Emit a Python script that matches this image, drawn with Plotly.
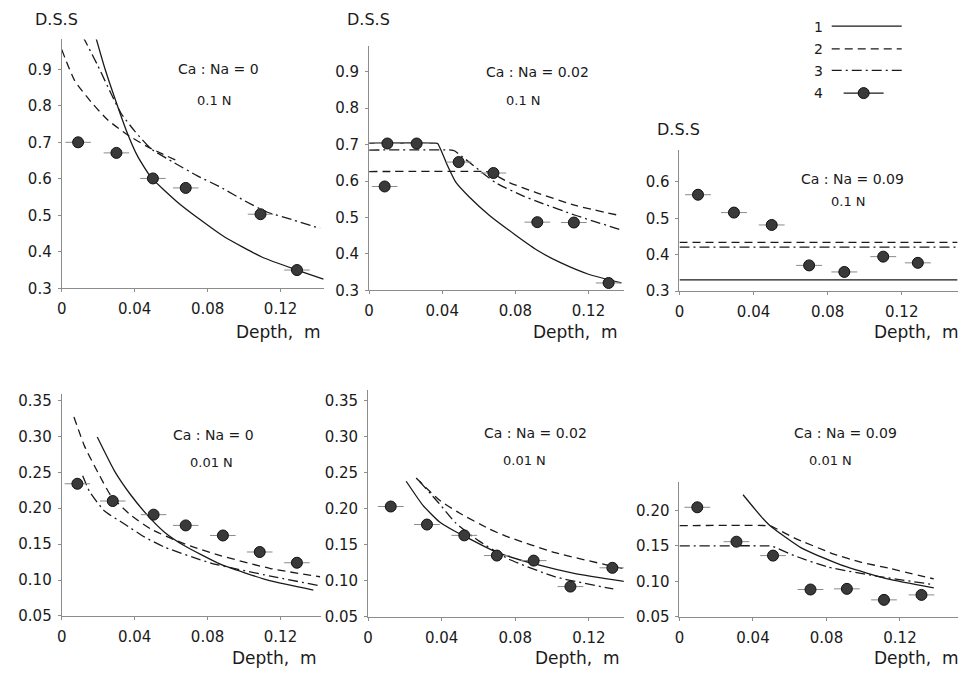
import plotly.graph_objects as go

W, H = 965, 680

# ---------------- data ----------------
x_ticks = [0, 0.04, 0.08, 0.12]
x_tick_text = ["0", "0.04", "0.08", "0.12"]
err_half = 0.007  # half width of horizontal bars on measured points

# Panel a: Ca:Na = 0, 0.1 N
a_pts_x = [0.009, 0.030, 0.050, 0.068, 0.109, 0.129]
a_pts_y = [0.700, 0.671, 0.601, 0.575, 0.503, 0.350]
a_c1_x = [0.018, 0.0235, 0.0289, 0.0353, 0.0416, 0.049, 0.0635, 0.0762, 0.0889, 0.110, 0.129, 0.1435]
a_c1_y = [1.000, 0.905, 0.824, 0.734, 0.662, 0.604, 0.536, 0.487, 0.442, 0.385, 0.350, 0.325]
a_c2_x = [0.000, 0.0071, 0.0162, 0.0253, 0.0362, 0.047, 0.063]
a_c2_y = [0.954, 0.869, 0.810, 0.761, 0.720, 0.688, 0.650]
a_c3_x = [0.0116, 0.0198, 0.0271, 0.0326, 0.0398, 0.049, 0.0617, 0.0744, 0.0871, 0.0998, 0.1125, 0.127, 0.1417]
a_c3_y = [0.990, 0.910, 0.833, 0.779, 0.732, 0.682, 0.644, 0.608, 0.577, 0.541, 0.509, 0.487, 0.464]

# Panel b: Ca:Na = 0.02, 0.1 N
b_pts_x = [0.0085, 0.010, 0.026, 0.049, 0.068, 0.092, 0.112, 0.131]
b_pts_y = [0.585, 0.703, 0.703, 0.652, 0.622, 0.487, 0.486, 0.320]
b_c1_x = [0.000, 0.036, 0.0375, 0.043, 0.0475, 0.0548, 0.0657, 0.080, 0.0929, 0.105, 0.120, 0.138]
b_c1_y = [0.704, 0.704, 0.703, 0.641, 0.596, 0.556, 0.506, 0.452, 0.407, 0.375, 0.344, 0.320]
b_c2_x = [0.000, 0.064, 0.0657, 0.0766, 0.091, 0.1128, 0.1373]
b_c2_y = [0.626, 0.626, 0.625, 0.596, 0.569, 0.533, 0.505]
b_c3_x = [0.000, 0.045, 0.0466, 0.0529, 0.0693, 0.0838, 0.0929, 0.1128, 0.139]
b_c3_y = [0.685, 0.685, 0.683, 0.659, 0.595, 0.560, 0.542, 0.506, 0.464]

# Panel c: Ca:Na = 0.09, 0.1 N
c_pts_x = [0.010, 0.0294, 0.0498, 0.070, 0.089, 0.110, 0.1287]
c_pts_y = [0.565, 0.516, 0.482, 0.371, 0.353, 0.395, 0.378]
c_c_x = [0.000, 0.150]
c_c1_y = [0.331, 0.331]
c_c2_y = [0.434, 0.434]
c_c3_y = [0.421, 0.421]

# Panel d: Ca:Na = 0, 0.01 N
d_pts_x = [0.0086, 0.028, 0.0504, 0.068, 0.0884, 0.1086, 0.129]
d_pts_y = [0.234, 0.210, 0.191, 0.176, 0.162, 0.139, 0.124]
d_c1_x = [0.0195, 0.0289, 0.038, 0.0471, 0.0562, 0.0671, 0.087, 0.114, 0.138]
d_c1_y = [0.299, 0.252, 0.218, 0.190, 0.167, 0.148, 0.122, 0.099, 0.086]
d_c2_x = [0.0067, 0.0125, 0.0198, 0.0271, 0.038, 0.0489, 0.0616, 0.0744, 0.087, 0.1145, 0.1417]
d_c2_y = [0.327, 0.2864, 0.250, 0.217, 0.190, 0.171, 0.156, 0.144, 0.134, 0.116, 0.1045]
d_c3_x = [0.0115, 0.0153, 0.0235, 0.0344, 0.0453, 0.0562, 0.0818, 0.1145, 0.1417]
d_c3_y = [0.245, 0.223, 0.196, 0.178, 0.160, 0.146, 0.1235, 0.1054, 0.092]

# Panel e: Ca:Na = 0.02, 0.01 N
e_pts_x = [0.0123, 0.032, 0.0523, 0.070, 0.090, 0.110, 0.1328]
e_pts_y = [0.203, 0.178, 0.163, 0.135, 0.128, 0.092, 0.118]
e_c1_x = [0.0207, 0.0297, 0.0387, 0.0477, 0.0523, 0.0694, 0.091, 0.1126, 0.1396]
e_c1_y = [0.238, 0.205, 0.182, 0.168, 0.162, 0.140, 0.123, 0.110, 0.099]
e_c2_x = [0.0261, 0.0387, 0.0496, 0.0658, 0.0748, 0.1018, 0.1306, 0.1387]
e_c2_y = [0.2425, 0.212, 0.194, 0.172, 0.162, 0.139, 0.1215, 0.117]
e_c3_x = [0.0279, 0.0387, 0.0477, 0.0604, 0.0766, 0.1018, 0.1333]
e_c3_y = [0.238, 0.207, 0.180, 0.155, 0.130, 0.1055, 0.0887]

# Panel f: Ca:Na = 0.09, 0.01 N
f_pts_x = [0.0097, 0.031, 0.0509, 0.0713, 0.0911, 0.1113, 0.1317]
f_pts_y = [0.2045, 0.156, 0.1364, 0.0886, 0.0895, 0.074, 0.081]
f_c1_x = [0.0346, 0.0446, 0.0498, 0.066, 0.084, 0.0915, 0.1132, 0.1384]
f_c1_y = [0.2222, 0.191, 0.1774, 0.1477, 0.1273, 0.120, 0.1036, 0.091]
f_c2_x = [0.000, 0.048, 0.0498, 0.0624, 0.084, 0.0985, 0.115, 0.1384]
f_c2_y = [0.1787, 0.1787, 0.1780, 0.1614, 0.1386, 0.1273, 0.118, 0.1036]
f_c3_x = [0.000, 0.049, 0.0507, 0.0624, 0.0805, 0.106, 0.1384]
f_c3_y = [0.150, 0.150, 0.1493, 0.1364, 0.1205, 0.108, 0.0955]

y_ticks_top = [0.3, 0.4, 0.5, 0.6, 0.7, 0.8, 0.9]
y_ticks_c = [0.3, 0.4, 0.5, 0.6]
y_ticks_bot = [0.05, 0.10, 0.15, 0.20, 0.25, 0.30, 0.35]
y_ticks_f = [0.05, 0.10, 0.15, 0.20]

ratio_labels = ["Ca : Na = 0", "Ca : Na = 0.02", "Ca : Na = 0.09",
                "Ca : Na = 0", "Ca : Na = 0.02", "Ca : Na = 0.09"]
norm_labels = ["0.1 N", "0.1 N", "0.1 N", "0.01 N", "0.01 N", "0.01 N"]
legend_numbers = ["1", "2", "3", "4"]

# ---------------- layout geometry (pixels) ----------------
panels = [
    dict(px=(57, 321), py=(291, 38), xr=(0, 0.144), yr=(0.3, 0.982), yt=y_ticks_top, fmt="{:.1f}"),
    dict(px=(366, 622), py=(293, 45), xr=(0, 0.1393), yr=(0.3, 0.970), yt=y_ticks_top, fmt="{:.1f}"),
    dict(px=(678, 958), py=(294, 150), xr=(0, 0.1504), yr=(0.3, 0.689), yt=y_ticks_c, fmt="{:.1f}"),
    dict(px=(57, 318), py=(624, 398), xr=(0, 0.1424), yr=(0.05, 0.3596), yt=y_ticks_bot, fmt="{:.2f}"),
    dict(px=(365, 622), py=(625, 394), xr=(0, 0.139), yr=(0.05, 0.365), yt=y_ticks_bot, fmt="{:.2f}"),
    dict(px=(678, 958), py=(625, 488), xr=(0, 0.1516), yr=(0.05, 0.24), yt=y_ticks_f, fmt="{:.2f}"),
]

curves = [
    (a_pts_x, a_pts_y, [(a_c1_x, a_c1_y), (a_c2_x, a_c2_y), (a_c3_x, a_c3_y)]),
    (b_pts_x, b_pts_y, [(b_c1_x, b_c1_y), (b_c2_x, b_c2_y), (b_c3_x, b_c3_y)]),
    (c_pts_x, c_pts_y, [(c_c_x, c_c1_y), (c_c_x, c_c2_y), (c_c_x, c_c3_y)]),
    (d_pts_x, d_pts_y, [(d_c1_x, d_c1_y), (d_c2_x, d_c2_y), (d_c3_x, d_c3_y)]),
    (e_pts_x, e_pts_y, [(e_c1_x, e_c1_y), (e_c2_x, e_c2_y), (e_c3_x, e_c3_y)]),
    (f_pts_x, f_pts_y, [(f_c1_x, f_c1_y), (f_c2_x, f_c2_y), (f_c3_x, f_c3_y)]),
]

dashes = ["solid", "8px,5px", "10px,4px,2px,4px"]
INK = "#1a1a1a"
AXC = "#8c8c8c"
FONT = "DejaVu Sans"

fig = go.Figure()
layout = dict(width=W, height=H, margin=dict(l=0, r=0, t=0, b=0),
              paper_bgcolor="white", plot_bgcolor="white", showlegend=True)

def px2x(p):
    return p / W

def py2y(p):
    return 1 - p / H

for i, (pn, (px_, py_, cl)) in enumerate(zip(panels, curves)):
    k = "" if i == 0 else str(i + 1)
    xa, ya = "x" + k, "y" + k
    for j, (cx, cy) in enumerate(cl):
        fig.add_trace(go.Scatter(x=cx, y=cy, xaxis=xa, yaxis=ya, mode="lines",
                                 line=dict(color=INK, width=1.3, dash=dashes[j],
                                           shape="spline", smoothing=0.5),
                                 showlegend=False, hoverinfo="skip"))
    fig.add_trace(go.Scatter(x=px_, y=py_, xaxis=xa, yaxis=ya, mode="markers",
                             marker=dict(size=11, color="#3a3a3a",
                                         line=dict(color="#111", width=1)),
                             error_x=dict(type="constant", value=err_half, color="#8a8a8a",
                                          thickness=1, width=0),
                             showlegend=False, hoverinfo="skip"))
    axis_common = dict(showline=True, linecolor=AXC, linewidth=1, showgrid=False,
                       zeroline=False, ticks="outside", ticklen=3, tickcolor=AXC,
                       tickfont=dict(family=FONT, size=15, color=INK))
    layout["xaxis" + k] = dict(axis_common, domain=[px2x(pn["px"][0]), px2x(pn["px"][1])],
                               range=list(pn["xr"]), anchor=ya, tickvals=x_ticks,
                               ticktext=x_tick_text, ticklabelstandoff=4)
    layout["yaxis" + k] = dict(axis_common, domain=[py2y(pn["py"][0]), py2y(pn["py"][1])],
                               range=list(pn["yr"]), anchor=xa, tickvals=pn["yt"],
                               ticktext=[pn["fmt"].format(v) for v in pn["yt"]],
                               ticklabelstandoff=3)

# legend samples (each in its own legend box so they can be positioned)
leg_rows_y = [25, 48, 70, 93]
for j in range(3):
    lname = "legend" if j == 0 else "legend" + str(j + 1)
    fig.add_trace(go.Scatter(x=[None], y=[None], mode="lines", name=" ",
                             line=dict(color=INK, width=1.3, dash=dashes[j]),
                             legend=lname, hoverinfo="skip"))
fig.add_trace(go.Scatter(x=[None], y=[None], mode="lines+markers", name=" ",
                         line=dict(color=INK, width=1.3),
                         marker=dict(size=11, color="#3a3a3a", line=dict(color="#111", width=1)),
                         legend="legend4", hoverinfo="skip"))
for j in range(4):
    lname = "legend" if j == 0 else "legend" + str(j + 1)
    layout[lname] = dict(x=px2x(826 if j < 3 else 838), y=py2y(leg_rows_y[j]),
                         xanchor="left", yanchor="middle", bgcolor="rgba(0,0,0,0)",
                         font=dict(family=FONT, size=14), itemwidth=70 if j < 3 else 40,
                         borderwidth=0)

ann = []
def add_text(t, x, y, size, xanchor="center"):
    ann.append(dict(text=t, x=px2x(x), y=py2y(y), xref="paper", yref="paper",
                    showarrow=False, xanchor=xanchor, yanchor="middle",
                    font=dict(family=FONT, size=size, color=INK)))

ratio_pos = [(215, 68), (535, 71), (852, 180), (210, 440), (533, 438), (845, 438)]
norm_pos = [(211, 100), (521, 100), (848, 203), (208, 468), (522, 466), (830, 466)]
for t, (x, y) in zip(ratio_labels, ratio_pos):
    add_text(t, x, y, 14)
for t, (x, y) in zip(norm_labels, norm_pos):
    add_text(t, x, y, 13)
for (x, y) in [(52, 18), (365, 18), (677, 130)]:
    add_text("D.S.S", x, y, 16)
for (x, y) in [(320, 335), (618, 335), (961, 335), (316, 667), (620, 667), (961, 667)]:
    add_text("Depth,  m", x, y, 17, xanchor="right")
for t, y in zip(legend_numbers, leg_rows_y):
    add_text(t, 818, y, 14)

layout["annotations"] = ann
fig.update_layout(**layout)
fig.write_html("out.html", config={"displayModeBar": False},
               post_script="document.body.style.margin='0px';document.body.style.padding='0px';")
